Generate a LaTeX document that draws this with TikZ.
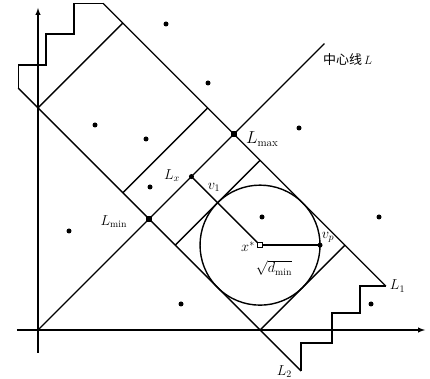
\documentclass[tikz,border=0pt]{standalone}
\usepackage{amsmath,amssymb}
\usepackage{fontspec}
\newfontfamily\cjkfont{Noto Sans CJK SC}
\usetikzlibrary{calc}

\tikzset{
  sqmark/.style={rectangle, fill, inner sep=0pt, minimum size=5.5pt},
  dotmark/.style={circle, fill, inner sep=0pt, minimum size=5pt},
  holemark/.style={rectangle, draw, fill=white, inner sep=0pt, minimum size=4.5pt, line width=1pt}
}

\begin{document}
\begin{tikzpicture}[x=1pt,y=1pt,>=latex,line width=1.4pt,font=\fontsize{14}{16}\selectfont]
    \useasboundingbox (-38,-49) rectangle (392,330);

    % ================= AXES =================
    \draw[->] (-21,0) -- (387,0);
    \draw[->] (0,-23) -- (0,322);

    % ================= BAND ALONG L (rotated frame) =================
    \begin{scope}[rotate=45]
    % centre line L
    \coordinate (O) at (0,0);
    \coordinate (Lend) at (405,0);
    \coordinate (Lmin) at (157,0);
    \coordinate (Lmax) at (277,0);
    \coordinate (Lx) at (217,0);

    % band edges L2 and L1
    \coordinate (L2top) at (157,185);
    \coordinate (L2bot) at (157,-215);
    \coordinate (L1top) at (277,185);
    \coordinate (L1bot) at (277,-215);

    % circle centre and tangent point
    \coordinate (xs) at (217,-97);
    \coordinate (v1) at (217,-37);

    \draw (O) -- (Lend);
    \draw (L2top) -- (L2bot);
    \draw (L1top) -- (L1bot);

    % upper cell
    \draw (157,157) -- (277,157);
    \draw (157,37) -- (277,37);

    % lower cell with the circle
    \draw (157,-37) -- (277,-37);
    \draw (157,-157) -- (277,-157);
    \draw (Lx) -- (xs);
    \draw (xs) circle (60);
    \end{scope}

    % radius to v_p
    \coordinate (vp) at ($(xs)+(60,0)$);
    \draw (xs) -- (vp);

    % ================= STAIRCASES =================
    \draw (L2top) |- (8,265) |- (36,296) |- (L1top);
    \draw (L1bot) -| (322,17) -| (294,-13) -| (L2bot);

    % ================= DATA POINTS =================
    \foreach \p in {(128,306),(170,247),(57,205),(108,191),(112,143),(224,113),
                    (261,202),(31,99),(143,26),(341,113),(333,26)}
        \fill \p circle (2.5);

    % marked points
    \node[sqmark] at (Lmin) {};
    \node[sqmark] at (Lmax) {};
    \node[dotmark] at (Lx) {};
    \node[dotmark] at (vp) {};
    \node[holemark] at (xs) {};

    % Labels
    \node[right] at (281,270) {\cjkfont\fontsize{13}{15}\selectfont 中心线\,$L$};
    \node[right] at (204,191) {\fontsize{16}{18}\selectfont $L_{\max}$};
    \node[left]  at (93,108) {$L_{\min}$};
    \node at (134,154) {$L_x$};
    \node at (176,143) {$v_1$};
    \node at (210,83) {$x^*$};
    \node at (290,93) {$v_p$};
    \node at (236,62) {$\sqrt{d_{\min}}$};
    \node[right] at (L1bot) {$L_1$};
    \node[left]  at (258,-42) {$L_2$};

\end{tikzpicture}
\end{document}
